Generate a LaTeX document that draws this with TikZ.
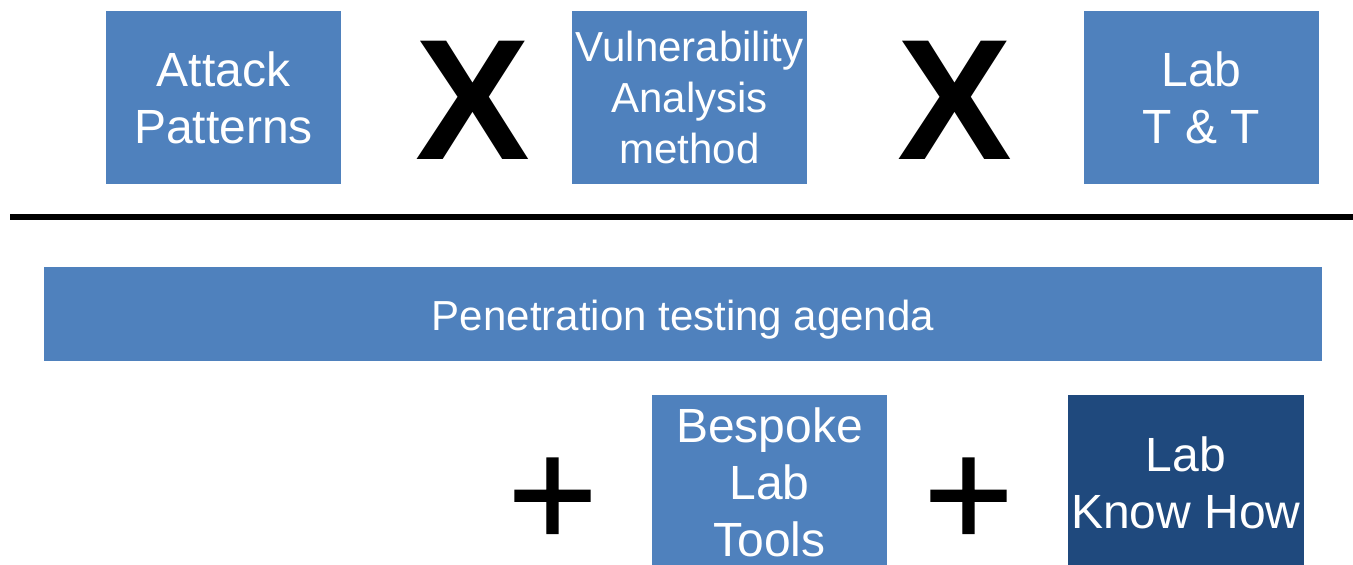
\documentclass[tikz,border=0pt]{standalone}
\usepackage{fontspec}
\setmainfont{Liberation Sans}
\newfontfamily\plusfont[FakeBold=0.8]{Liberation Sans}
\definecolor{boxblue}{HTML}{4F81BD}
\definecolor{boxnavy}{HTML}{1F497D}
\begin{document}
\begin{tikzpicture}[x=1pt,y=-1pt,
  blk/.style={fill=boxblue, text=white, inner sep=0pt, align=center,
    minimum width=235, font=\fontsize{48}{57}\selectfont},
  times/.style={inner sep=0pt, text=black, font=\bfseries\fontsize{172}{172}\selectfont},
  plus/.style={inner sep=0pt, text=black, font=\plusfont\fontsize{154}{154}\selectfont}]
\useasboundingbox (0,0) rectangle (1353,565);
\clip (0,0) rectangle (1353,565);

% top row: factors
\node[blk, minimum height=173] (attack) at (223.5,97.5) {Attack\\Patterns};
\node[times] (x1) at (473,100) {X};
\node[blk, minimum height=173, font=\fontsize{42}{51}\selectfont] (vuln) at (689.5,97.5) {Vulnerability\\Analysis\\method};
\node[times] (x2) at (955,100) {X};
\node[blk, minimum height=173] (labtt) at (1201.5,97.5) {Lab\\T \& T};

% separator
\coordinate (sepL) at (10,217);
\coordinate (sepR) at (1353,217);
\draw[line width=6pt] (sepL) -- (sepR);

% result bar
\node[blk, minimum width=1278, minimum height=94, text height=33, text depth=0,
  font=\fontsize{42}{51}\selectfont] (agenda) at (683,313.5) {Penetration testing agenda};

% bottom row: additions
\node[plus] (p1) at (552.5,502.5) {+};
\node[blk, minimum height=175] (tools) at (769.5,482.5) {Bespoke\\Lab\\Tools};
\node[plus] (p2) at (968.5,502.5) {+};
\node[blk, fill=boxnavy, minimum width=236, minimum height=175] (know) at (1186,482.5) {Lab\\Know How};
\end{tikzpicture}
\end{document}
